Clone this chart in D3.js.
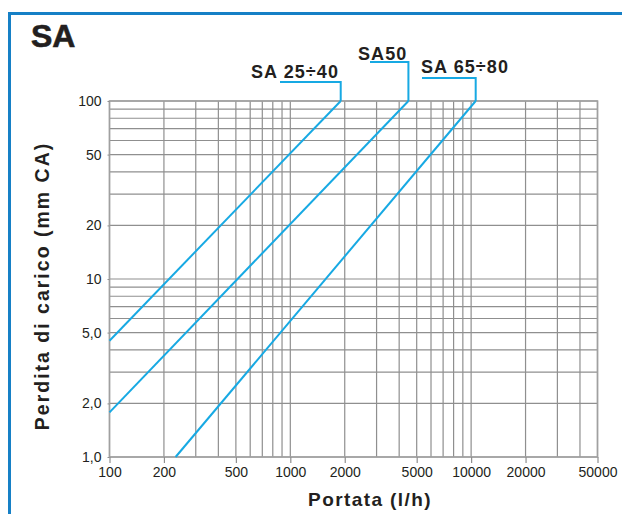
<!DOCTYPE html>
<html>
<head>
<meta charset="utf-8">
<script src="https://cdn.jsdelivr.net/npm/d3@7"></script>
<style>
  html, body { margin: 0; padding: 0; background: #fff; }
  svg { display: block; font-family: 'Liberation Sans', Arial, sans-serif; }
</style>
</head>
<body>
<div id="chart"></div>
<script>
// portata (l/h) / perdita di carico (mm CA)
const seriesNames = ['SA 25÷40', 'SA50', 'SA 65÷80'];
const flowSA25 = [100, 1900];
const lossSA25 = [4.5, 100];
const flowSA50 = [100, 4500];
const lossSA50 = [1.78, 100];
const flowSA65 = [232, 10600];
const lossSA65 = [1.0, 100];

const xTickValues = [100, 200, 500, 1000, 2000, 5000, 10000, 20000, 50000];
const yTickValues = [1, 2, 5, 10, 20, 50, 100];
const yTickLabels = ['1,0', '2,0', '5,0', '10', '20', '50', '100'];

const width = 622;
const height = 514;
const blue = '#17a9e3';
const gridColor = '#8f8f8f';

const svg = d3.select('#chart')
  .append('svg')
  .attr('width', width)
  .attr('height', height);

// cornice blu
svg.append('path')
  .attr('d', `M9.5,${height} V13.5 H${width}`)
  .attr('fill', 'none')
  .attr('stroke', '#1680c6')
  .attr('stroke-width', 3);

svg.append('text')
  .attr('x', 31)
  .attr('y', 47)
  .attr('font-size', 32)
  .attr('font-weight', 'bold')
  .attr('fill', '#231f20')
  .attr('stroke', '#231f20')
  .attr('stroke-width', 0.6)
  .text('SA');

const x = d3.scaleLog().domain([100, 50000]).range([109.5, 597.5]);
const y = d3.scaleLog().domain([1, 100]).range([457, 101]);

// griglia
const xGrid = [];
for (let d = 100; d < 50000; d *= 10) {
  for (let k = 1; k < 10; k++) if (d * k <= 50000) xGrid.push(d * k);
}
const yGrid = [];
for (let d = 1; d < 100; d *= 10) {
  for (let k = 1; k < 10; k++) yGrid.push(d * k);
}
yGrid.push(100);

const grid = svg.append('g').attr('class', 'grid');
grid.selectAll('.vline')
  .data(xGrid)
  .enter()
  .append('line')
  .attr('class', 'vline')
  .attr('x1', d => x(d)).attr('x2', d => x(d))
  .attr('y1', y(100)).attr('y2', y(1))
  .attr('stroke', gridColor)
  .attr('stroke-width', 1.2);

grid.selectAll('.hline')
  .data(yGrid)
  .enter()
  .append('line')
  .attr('class', 'hline')
  .attr('x1', x(100)).attr('x2', x(50000))
  .attr('y1', d => y(d)).attr('y2', d => y(d))
  .attr('stroke', gridColor)
  .attr('stroke-width', 1.2);

grid.append('rect')
  .attr('x', x(100)).attr('y', y(100))
  .attr('width', x(50000) - x(100))
  .attr('height', y(1) - y(100))
  .attr('fill', 'none')
  .attr('stroke', '#a0a0a0')
  .attr('stroke-width', 1.6);

// assi
const xAxis = d3.axisBottom(x)
  .tickValues(xTickValues)
  .tickFormat(d3.format('d'))
  .tickSize(6)
  .tickPadding(4);

svg.append('g')
  .attr('transform', `translate(0,${y(1)})`)
  .call(xAxis)
  .call(g => g.select('.domain').remove())
  .call(g => g.selectAll('line').attr('stroke', gridColor).attr('stroke-width', 1.2))
  .call(g => g.selectAll('text')
    .attr('font-family', "'Liberation Sans', Arial, sans-serif")
    .attr('font-size', 14)
    .attr('fill', '#231f20'));

const yAxis = d3.axisLeft(y)
  .tickValues(yTickValues)
  .tickFormat((d, i) => yTickLabels[i])
  .tickSize(2)
  .tickPadding(6);

svg.append('g')
  .attr('transform', `translate(${x(100)},0)`)
  .call(yAxis)
  .call(g => g.select('.domain').remove())
  .call(g => g.selectAll('line').attr('stroke', gridColor))
  .call(g => g.selectAll('text')
    .attr('font-family', "'Liberation Sans', Arial, sans-serif")
    .attr('font-size', 14)
    .attr('fill', '#231f20'));

// titoli assi
svg.append('text')
  .attr('x', 370)
  .attr('y', 506)
  .attr('text-anchor', 'middle')
  .attr('font-size', 19)
  .attr('font-weight', 'bold')
  .attr('letter-spacing', 1.4)
  .attr('fill', '#231f20')
  .text('Portata (l/h)');

svg.append('text')
  .attr('transform', 'translate(49,286) rotate(-90)')
  .attr('text-anchor', 'middle')
  .attr('font-size', 19.5)
  .attr('font-weight', 'bold')
  .attr('letter-spacing', 2)
  .attr('fill', '#231f20')
  .text('Perdita di carico (mm CA)');

// curve
const series = [
  { name: seriesNames[0], flow: flowSA25, loss: lossSA25, leaderY: 82, leaderX: 280, labelX: 251, labelY: 78 },
  { name: seriesNames[1], flow: flowSA50, loss: lossSA50, leaderY: 62, leaderX: 370, labelX: 358, labelY: 60 },
  { name: seriesNames[2], flow: flowSA65, loss: lossSA65, leaderY: 78, leaderX: 422, labelX: 421, labelY: 73 },
];

const line = d3.line()
  .x(d => x(d[0]))
  .y(d => y(d[1]));

const curves = svg.append('g').attr('class', 'curves');
series.forEach(s => {
  const pts = s.flow.map((f, i) => [f, s.loss[i]]);
  curves.append('path')
    .attr('d', line(pts))
    .attr('fill', 'none')
    .attr('stroke', blue)
    .attr('stroke-width', 2);

  // richiamo etichetta
  const end = pts[pts.length - 1];
  const ex = x(end[0]);
  const ey = y(end[1]);
  curves.append('path')
    .attr('d', `M${ex},${ey} V${s.leaderY} H${s.leaderX}`)
    .attr('fill', 'none')
    .attr('stroke', blue)
    .attr('stroke-width', 2);

  curves.append('text')
    .attr('x', s.labelX)
    .attr('y', s.labelY)
    .attr('font-size', 18)
    .attr('font-weight', 'bold')
    .attr('letter-spacing', 1.1)
    .attr('fill', '#231f20')
    .text(s.name);
});
</script>
</body>
</html>
